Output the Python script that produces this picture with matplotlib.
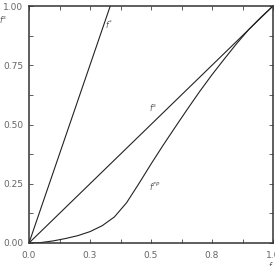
import matplotlib
matplotlib.use("Agg")
import matplotlib.pyplot as plt
from matplotlib.ticker import MultipleLocator

# data
star_x = [0.0, 0.333]
star_y = [0.0, 1.0]
diag_x = [0.0, 1.0]
diag_y = [0.0, 1.0]
fp_x = [0.0, 0.05, 0.1, 0.15, 0.2, 0.25, 0.3, 0.35, 0.4, 0.45, 0.5,
        0.55, 0.6, 0.65, 0.7, 0.75, 0.8, 0.85, 0.9, 0.95, 1.0]
fp_y = [0.0, 0.002, 0.009, 0.019, 0.031, 0.048, 0.073, 0.11, 0.17, 0.25, 0.333,
        0.413, 0.49, 0.566, 0.64, 0.71, 0.776, 0.84, 0.9, 0.952, 1.0]
xtick_vals = [0.0, 0.25, 0.5, 0.75, 1.0]
xtick_labels = ["0.0", "0.3", "0.5", "0.8", "1.0"]
ytick_vals = [0.0, 0.25, 0.5, 0.75, 1.0]
ytick_labels = ["0.00", "0.25", "0.50", "0.75", "1.00"]

fig = plt.figure(figsize=(2.75, 2.66), dpi=100)
ax = fig.add_axes([29/275, 1-243/266, 244/275, 237/266])
lc = "#222222"
ax.plot(star_x, star_y, color=lc, lw=0.8)
ax.plot(diag_x, diag_y, color=lc, lw=0.8)
ax.plot(fp_x, fp_y, color=lc, lw=0.8)
ax.set_xlim(0, 1)
ax.set_ylim(0, 1)
ax.set_xticks(xtick_vals)
ax.set_xticklabels(xtick_labels)
ax.set_yticks(ytick_vals)
ax.set_yticklabels(ytick_labels)
ax.xaxis.set_minor_locator(MultipleLocator(0.125))
ax.yaxis.set_minor_locator(MultipleLocator(0.125))
ax.tick_params(which="both", direction="in", top=True, right=True,
               labelsize=6.5, labelcolor="#666666", color="#444444")
ax.tick_params(which="major", length=3, width=0.6)
ax.tick_params(which="minor", length=3, width=0.6)
ax.tick_params(axis="x", pad=6)
ax.tick_params(axis="y", pad=4)
for s in ax.spines.values():
    s.set_linewidth(1.1)
    s.set_color("#333333")

ax.text(0.31, 0.905, "$f^{*}$", fontsize=5.5, color="#555555")
ax.text(0.49, 0.555, "$f^{s}$", fontsize=5.5, color="#555555")
ax.text(0.49, 0.22, "$f^{FP}$", fontsize=5.5, color="#555555")
fig.text(-0.005, 0.915, "$f^{s}$", fontsize=5.5, color="#555555")
fig.text(0.975, -0.012, "$f$", fontsize=5.5, color="#555555")

fig.savefig("out.png", dpi=100)
